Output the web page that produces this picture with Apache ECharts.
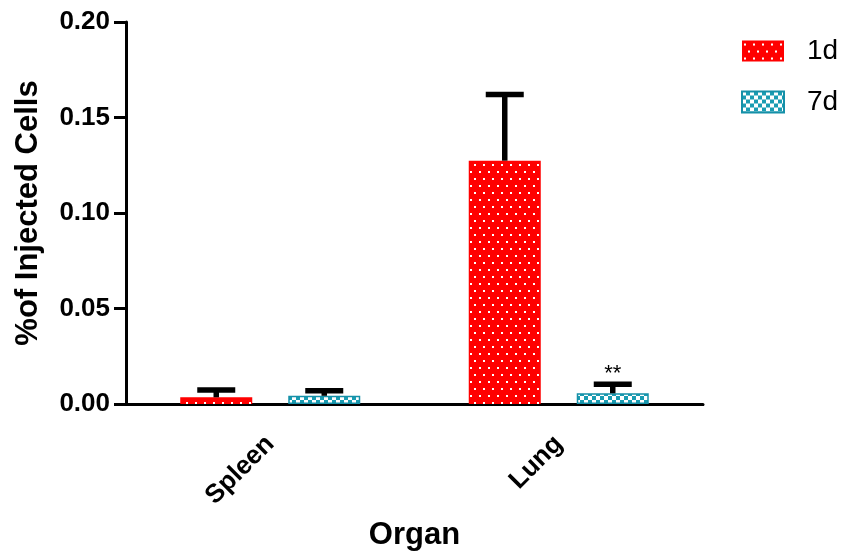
<!DOCTYPE html>
<html>
<head>
<meta charset="utf-8">
<script src="https://cdn.jsdelivr.net/npm/echarts@6/dist/echarts.min.js"></script>
<style>html,body{margin:0;padding:0;background:#fff}#c{width:844px;height:556px}</style>
</head>
<body>
<div id="c"></div>
<script>
// ---- data ----
const categories = ['Spleen', 'Lung'];
const seriesNames = ['1d', '7d'];
const mean1d = [0.0035, 0.1274];
const err1d = [0.0038, 0.0346];
const mean7d = [0.0043, 0.0056];
const err7d = [0.0027, 0.0048];
const annot1d = ['', ''];
const annot7d = ['', '**'];
const yTicks = [0, 0.05, 0.10, 0.15, 0.20];

// ---- style ----
const FONT = 'Liberation Sans, Arial, Helvetica, sans-serif';
const BAR_W = 72;
const GAP = 36;

function redPattern() {
  const c = document.createElement('canvas');
  c.width = 9; c.height = 14;
  const g = c.getContext('2d');
  g.fillStyle = '#ff0000'; g.fillRect(0, 0, 9, 14);
  g.fillStyle = '#ffffff';
  g.fillRect(2, 3, 2, 2);
  g.fillRect(6, 10, 2, 2);
  return c;
}
function tealPattern() {
  const c = document.createElement('canvas');
  c.width = 8; c.height = 8;
  const g = c.getContext('2d');
  g.fillStyle = '#1a9cb2'; g.fillRect(0, 0, 8, 8);
  g.fillStyle = '#ffffff';
  g.fillRect(0, 0, 4, 4);
  g.fillRect(4, 4, 4, 4);
  return c;
}

const chart = echarts.init(document.getElementById('c'), null, {renderer: 'canvas'});

function errSeries(name, means, errs, annots, offset) {
  return {
    type: 'custom',
    name: name + '_err',
    xAxisIndex: 0,
    yAxisIndex: 0,
    z: 10,
    silent: true,
    data: means.map((m, i) => [i, m, m + errs[i], annots[i]]),
    renderItem: function (params, api) {
      const base = api.coord([api.value(0), api.value(1)]);
      const top = api.coord([api.value(0), api.value(2)]);
      const x = base[0] + offset;
      const children = [
        {type: 'line', shape: {x1: x, y1: base[1], x2: x, y2: top[1]},
         style: {stroke: '#000', lineWidth: 5.5}},
        {type: 'line', shape: {x1: x - 19, y1: top[1], x2: x + 19, y2: top[1]},
         style: {stroke: '#000', lineWidth: 5.5}}
      ];
      const a = annots[params.dataIndex];
      if (a) {
        children.push({type: 'text', x: x, y: top[1] + 1,
          style: {text: a, fill: '#000', font: '22px ' + FONT, align: 'center', verticalAlign: 'bottom'}});
      }
      return {type: 'group', children: children};
    }
  };
}

const option = {
  animation: false,
  backgroundColor: '#fff',
  grid: {left: 126, right: 141, top: 22, bottom: 151, containLabel: false},
  legend: {
    orient: 'vertical', left: 741, top: 37,
    itemWidth: 42, itemHeight: 21, itemGap: 23,
    padding: 0,
    icon: 'rect',
    data: seriesNames,
    textStyle: {fontSize: 28, fontFamily: FONT, color: '#000', padding: [0, 0, 0, 18]}
  },
  xAxis: [{
    type: 'category',
    data: categories,
    axisLine: {lineStyle: {color: '#000', width: 3}},
    axisTick: {alignWithLabel: true, length: 12, lineStyle: {color: '#000', width: 3}},
    axisLabel: {rotate: 45, margin: 36, fontSize: 26, fontWeight: 'bold', color: '#000', fontFamily: FONT},
    name: 'Organ', nameLocation: 'middle', nameGap: 116,
    nameTextStyle: {fontSize: 31, fontWeight: 'bold', color: '#000', fontFamily: FONT}
  }, {
    type: 'value', min: 0, max: 100, interval: 10, position: 'bottom',
    axisLine: {show: false},
    axisTick: {show: true, length: 2, lineStyle: {color: '#000', width: 1}},
    minorTick: {show: true, splitNumber: 16, length: 2, lineStyle: {color: '#000', width: 1}},
    axisLabel: {show: false}, splitLine: {show: false}
  }],
  yAxis: [{
    type: 'value', min: yTicks[0], max: yTicks[yTicks.length - 1], interval: 0.05,
    axisLine: {show: true, lineStyle: {color: '#000', width: 3}},
    axisTick: {show: true, length: 12, lineStyle: {color: '#000', width: 3}},
    axisLabel: {formatter: v => v.toFixed(2), margin: 16, fontSize: 26, fontWeight: 'bold', color: '#000', fontFamily: FONT},
    splitLine: {show: false},
    name: '%of Injected Cells', nameLocation: 'middle', nameGap: 82,
    nameTextStyle: {fontSize: 31, fontWeight: 'bold', color: '#000', fontFamily: FONT}
  }, {
    type: 'value', min: 0, max: 0.2, interval: 0.05, position: 'left',
    axisLine: {show: false},
    axisTick: {show: true, inside: true, length: 2, lineStyle: {color: '#000', width: 1}},
    minorTick: {show: true, splitNumber: 25, length: 2, lineStyle: {color: '#000', width: 1}},
    axisLabel: {show: false}, splitLine: {show: false}
  }],
  series: [
    {name: seriesNames[0], type: 'bar', barWidth: BAR_W, barGap: (GAP / BAR_W * 100) + '%',
     data: mean1d, itemStyle: {color: {image: redPattern(), repeat: 'repeat'}}},
    {name: seriesNames[1], type: 'bar', barWidth: BAR_W, barGap: (GAP / BAR_W * 100) + '%',
     data: mean7d, itemStyle: {color: {image: tealPattern(), repeat: 'repeat'}, borderColor: '#1590a8', borderWidth: 1.5}},
    errSeries(seriesNames[0], mean1d, err1d, annot1d, -(BAR_W + GAP) / 2),
    errSeries(seriesNames[1], mean7d, err7d, annot7d, (BAR_W + GAP) / 2)
  ]
};
chart.setOption(option);
</script>
</body>
</html>
